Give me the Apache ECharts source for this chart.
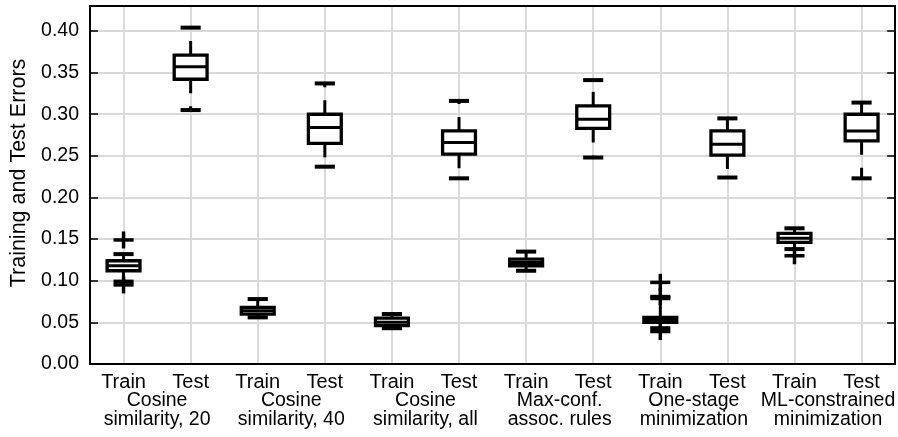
<!DOCTYPE html>
<html>
<head>
<meta charset="utf-8">
<script src="https://cdn.jsdelivr.net/npm/echarts@6/dist/echarts.min.js"></script>
<style>
html,body{margin:0;padding:0;background:#fff;}
#chart{width:898px;height:437px;}
</style>
</head>
<body>
<div id="chart"></div>
<script>
// ---- data ----
const categories = ['Train','Test','Train','Test','Train','Test','Train','Test','Train','Test','Train','Test'];
const groups = ['Cosine\nsimilarity, 20','Cosine\nsimilarity, 40','Cosine\nsimilarity, all','Max-conf.\nassoc. rules','One-stage\nminimization','ML-constrained\nminimization'];
const lowerCap = [0.099,0.305,0.056,0.237,0.043,0.223,0.112,0.248,0.043,0.224,0.138,0.223];
const q1       = [0.112,0.342,0.060,0.265,0.046,0.252,0.118,0.283,0.050,0.251,0.146,0.268];
const median   = [0.118,0.357,0.064,0.284,0.050,0.266,0.122,0.294,0.053,0.264,0.151,0.280];
const q3       = [0.124,0.371,0.068,0.300,0.055,0.280,0.126,0.310,0.056,0.280,0.157,0.300];
const upperCap = [0.132,0.404,0.078,0.337,0.060,0.316,0.135,0.341,0.079,0.295,0.163,0.314];
const outlierIdx = [0,0,8,8,8,10];
const outlierVal = [0.149,0.095,0.081,0.098,0.039,0.130];
const yTicks = [0.00,0.05,0.10,0.15,0.20,0.25,0.30,0.35,0.40];

const boxData = categories.map((c,i)=>[i,lowerCap[i],q1[i],median[i],q3[i],upperCap[i]]);
const outData = outlierIdx.map((i,k)=>[i,outlierVal[k]]);

const chart = echarts.init(document.getElementById('chart'), null, {renderer:'canvas'});
const FONT = 'Liberation Sans, Arial, sans-serif';

function renderBox(params, api){
  const i = api.value(0);
  const lo = api.coord([i, api.value(1)]);
  const b1 = api.coord([i, api.value(2)]);
  const md = api.coord([i, api.value(3)]);
  const b3 = api.coord([i, api.value(4)]);
  const hi = api.coord([i, api.value(5)]);
  const band = api.size([1,0])[0];
  const bw = band*0.49, cw = band*0.30;
  const x = md[0];
  const blk = '#000';
  const dash = {stroke:blk, lineWidth:3, lineDash:[14,13], lineCap:'butt'};
  return {type:'group', children:[
    {type:'line', shape:{x1:x,y1:b3[1],x2:x,y2:hi[1]}, style:dash},
    {type:'line', shape:{x1:x,y1:b1[1],x2:x,y2:lo[1]}, style:dash},
    {type:'line', shape:{x1:x-cw/2,y1:hi[1],x2:x+cw/2,y2:hi[1]}, style:{stroke:blk,lineWidth:4}},
    {type:'line', shape:{x1:x-cw/2,y1:lo[1],x2:x+cw/2,y2:lo[1]}, style:{stroke:blk,lineWidth:4}},
    {type:'rect', shape:{x:x-bw/2,y:b3[1],width:bw,height:b1[1]-b3[1]}, style:{fill:'#fff',stroke:blk,lineWidth:3.3}},
    {type:'line', shape:{x1:x-bw/2,y1:md[1],x2:x+bw/2,y2:md[1]}, style:{stroke:blk,lineWidth:3}}
  ]};
}
function renderPlus(params, api){
  const p = api.coord([api.value(0), api.value(1)]);
  const band = api.size([1,0])[0];
  const hw = band*0.15, hh = 8.5;
  return {type:'group', children:[
    {type:'line', shape:{x1:p[0]-hw,y1:p[1],x2:p[0]+hw,y2:p[1]}, style:{stroke:'#000',lineWidth:3.5}},
    {type:'line', shape:{x1:p[0],y1:p[1]-hh,x2:p[0],y2:p[1]+hh}, style:{stroke:'#000',lineWidth:3.5}}
  ]};
}

const gridColor = '#dadada';
chart.setOption({
  animation:false,
  backgroundColor:'#fff',
  grid:{left:89,right:1,top:6,bottom:73,containLabel:false},
  xAxis:[
    {type:'category', data:categories, position:'bottom', boundaryGap:true,
     axisLine:{lineStyle:{color:'#000',width:2}},
     axisTick:{inside:true,alignWithLabel:true,length:8,lineStyle:{color:'#000',width:1.5}},
     axisLabel:{color:'#000',fontSize:20,fontFamily:FONT,margin:8,interval:0},
     splitLine:{show:true,alignWithLabel:true,lineStyle:{color:gridColor,width:2}}},
    {type:'category', data:groups, position:'bottom', offset:27, boundaryGap:true,
     axisLine:{show:false}, axisTick:{show:false},
     axisLabel:{color:'#000',fontSize:19.5,fontFamily:FONT,margin:0,interval:0,lineHeight:19,verticalAlign:'top'},
     splitLine:{show:false}},
    {type:'category', data:categories, position:'top', boundaryGap:true,
     axisLine:{lineStyle:{color:'#000',width:2}},
     axisTick:{inside:true,alignWithLabel:true,length:8,lineStyle:{color:'#000',width:1.5}},
     axisLabel:{show:false}, splitLine:{show:false}}
  ],
  yAxis:[
    {type:'value', min:0, max:0.43, interval:0.05, position:'left',
     name:'Training and Test Errors', nameLocation:'middle', nameGap:60,
     nameTextStyle:{color:'#000',fontSize:21.5,fontFamily:FONT,padding:[0,0,0,24]},
     axisLine:{show:true,lineStyle:{color:'#000',width:2}},
     axisTick:{show:true,inside:true,length:8,lineStyle:{color:'#000',width:1.5}},
     axisLabel:{color:'#000',fontSize:19.5,fontFamily:FONT,margin:11,
       formatter:v=>{const t=yTicks.find(k=>Math.abs(k-v)<1e-6);return t===undefined?'':t.toFixed(2);}},
     splitLine:{show:true,lineStyle:{color:gridColor,width:2}}},
    {type:'value', min:0, max:0.43, interval:0.05, position:'right',
     axisLine:{show:true,lineStyle:{color:'#000',width:2}},
     axisTick:{show:true,inside:true,length:8,lineStyle:{color:'#000',width:1.5}},
     axisLabel:{show:false}, splitLine:{show:false}}
  ],
  series:[
    {type:'custom', xAxisIndex:0, yAxisIndex:0, data:boxData, renderItem:renderBox, encode:{x:0,y:[1,2,3,4,5]}, z:3},
    {type:'custom', xAxisIndex:0, yAxisIndex:0, data:outData, renderItem:renderPlus, encode:{x:0,y:1}, z:4}
  ]
});
</script>
</body>
</html>
